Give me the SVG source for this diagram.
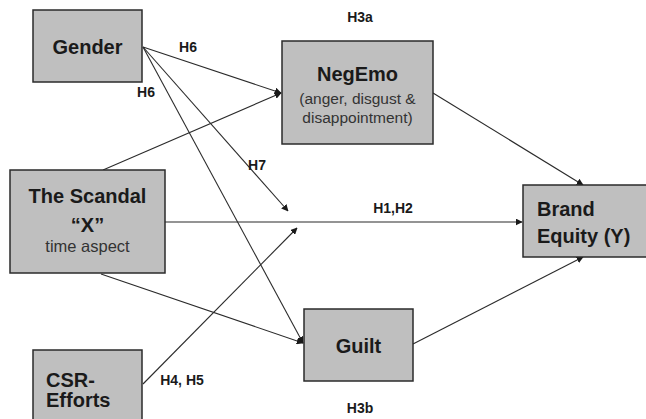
<svg xmlns="http://www.w3.org/2000/svg" width="646" height="419" viewBox="0 0 646 419">
<defs>
<style>
.box{fill:#bfbfbf;stroke:#2b2b2b;stroke-width:1.5}
.t{font-family:"Liberation Sans",Arial,sans-serif;font-weight:bold;font-size:20px;fill:#1a1a1a;text-anchor:middle}
.s{font-family:"Liberation Sans",Arial,sans-serif;font-size:15.5px;fill:#333;text-anchor:middle}
.l{font-family:"Liberation Sans",Arial,sans-serif;font-weight:bold;font-size:14px;fill:#1a1a1a;text-anchor:middle}
.c{fill:none;stroke:#2b2b2b;stroke-width:1.1;marker-end:url(#ah)}
</style>
<marker id="ah" viewBox="0 0 10 10" refX="9" refY="5" markerWidth="7" markerHeight="7" markerUnits="userSpaceOnUse" orient="auto">
<path d="M0,0 L10,5 L0,10 z" fill="#1a1a1a"/>
</marker>
</defs>
<rect width="646" height="419" fill="#fff"/>
<g id="connectors">
<line class="c" x1="143" y1="47" x2="281" y2="93"/>
<line class="c" x1="103" y1="170" x2="281" y2="93"/>
<line class="c" x1="143" y1="47" x2="303" y2="343"/>
<line class="c" x1="143" y1="47" x2="288" y2="211"/>
<line class="c" x1="165" y1="222" x2="522" y2="222"/>
<line class="c" x1="101" y1="274" x2="303" y2="343"/>
<line class="c" x1="143" y1="384" x2="297" y2="228"/>
<line class="c" x1="433" y1="93" x2="583" y2="185"/>
<line class="c" x1="413" y1="344" x2="583" y2="257"/>
</g>
<g id="labels">
<text class="l" x="188" y="52">H6</text>
<text class="l" x="146" y="97">H6</text>
<text class="l" x="257" y="170">H7</text>
<text class="l" x="393" y="213">H1,H2</text>
<text class="l" x="182" y="385">H4, H5</text>
<text class="l" x="360" y="22">H3a</text>
<text class="l" x="360" y="413">H3b</text>
</g>
<g id="gender">
<rect class="box" x="33" y="10" width="109" height="72"/>
<text class="t" x="87.5" y="54">Gender</text>
</g>
<g id="negemo">
<rect class="box" x="282" y="41" width="151" height="103"/>
<text class="t" x="357.5" y="81">NegEmo</text>
<text class="s" x="357.5" y="104">(anger, disgust &amp;</text>
<text class="s" x="357.5" y="123">disappointment)</text>
</g>
<g id="scandal">
<rect class="box" x="10" y="170" width="155" height="103"/>
<text class="t" x="87.5" y="203">The Scandal</text>
<text class="t" x="87.5" y="232">“X”</text>
<text class="s" x="87.5" y="252" style="font-size:16.5px">time aspect</text>
</g>
<g id="csr">
<rect class="box" x="33" y="350" width="109" height="72"/>
<text class="t" x="46" y="387" style="text-anchor:start">CSR-</text>
<text class="t" x="46" y="407" style="text-anchor:start">Efforts</text>
</g>
<g id="guilt">
<rect class="box" x="304" y="309" width="109" height="72"/>
<text class="t" x="358.5" y="353">Guilt</text>
</g>
<g id="brand">
<rect class="box" x="523" y="185" width="126" height="72"/>
<text class="t" x="537" y="216" style="text-anchor:start">Brand</text>
<text class="t" x="537" y="243" style="text-anchor:start">Equity (Y)</text>
</g>
</svg>
